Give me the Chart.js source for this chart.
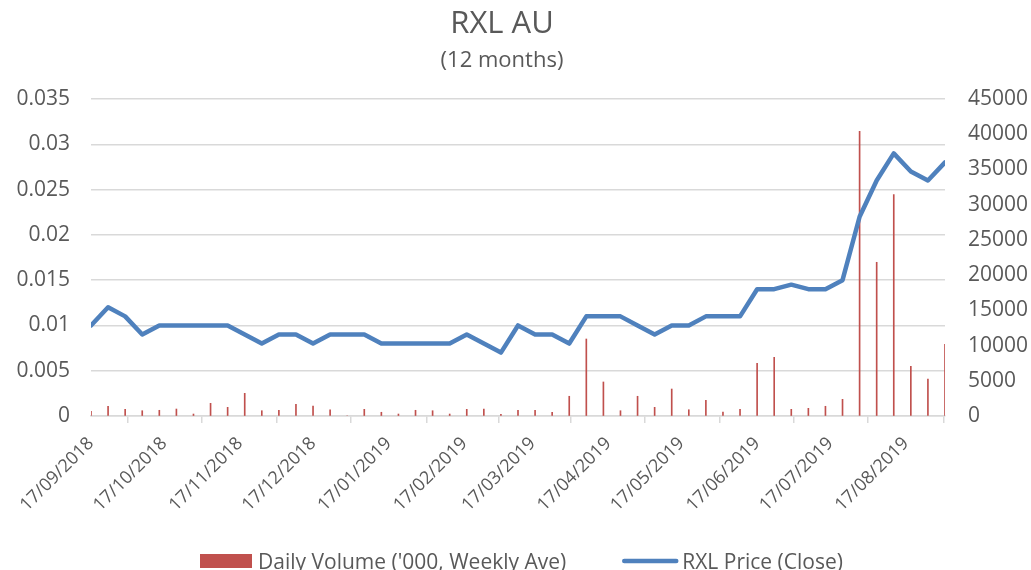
<!DOCTYPE html>
<html><head><meta charset="utf-8">
<script src="https://cdn.jsdelivr.net/npm/chart.js@4.4.1/dist/chart.umd.min.js"></script>
<style>html,body{margin:0;padding:0;background:#fff;}canvas{display:block;}</style>
</head><body>
<canvas id="c" width="1031" height="570"></canvas>
<script>
// Weekly observation dates (categories)
const weekDates = ['17/09/2018','24/09/2018','01/10/2018','08/10/2018','15/10/2018','22/10/2018','29/10/2018',
  '05/11/2018','12/11/2018','19/11/2018','26/11/2018','03/12/2018','10/12/2018','17/12/2018','24/12/2018',
  '31/12/2018','07/01/2019','14/01/2019','21/01/2019','28/01/2019','04/02/2019','11/02/2019','18/02/2019',
  '25/02/2019','04/03/2019','11/03/2019','18/03/2019','25/03/2019','01/04/2019','08/04/2019','15/04/2019',
  '22/04/2019','29/04/2019','06/05/2019','13/05/2019','20/05/2019','27/05/2019','03/06/2019','10/06/2019',
  '17/06/2019','24/06/2019','01/07/2019','08/07/2019','15/07/2019','22/07/2019','29/07/2019','05/08/2019',
  '12/08/2019','19/08/2019','26/08/2019','02/09/2019'];
// RXL Price (Close)
const priceClose = [0.010,0.012,0.011,0.009,0.010,0.010,0.010,0.010,0.010,0.009,0.008,0.009,0.009,0.008,0.009,
  0.009,0.009,0.008,0.008,0.008,0.008,0.008,0.009,0.008,0.007,0.010,0.009,0.009,0.008,0.011,0.011,0.011,0.010,
  0.009,0.010,0.010,0.011,0.011,0.011,0.014,0.014,0.0145,0.014,0.014,0.015,0.022,0.026,0.029,0.027,0.026,0.028];
// Daily Volume ('000, Weekly Ave)
const volumeWeeklyAve = [660,1370,950,750,810,990,280,1800,1230,3220,750,810,1660,1420,890,0,950,530,280,810,
  750,280,950,990,240,810,810,530,2800,10930,4830,750,2800,1230,3830,890,2230,570,950,7480,8330,950,1090,1380,
  2370,40420,21820,31430,7050,5250,10170];
// X axis tick labels and range
const monthTickLabels = ['17/09/2018','17/10/2018','17/11/2018','17/12/2018','17/01/2019','17/02/2019',
  '17/03/2019','17/04/2019','17/05/2019','17/06/2019','17/07/2019','17/08/2019'];
const axisStart = '17/09/2018';
const axisEnd = '02/09/2019';
const priceAxisMax = 0.035, priceAxisStep = 0.005;
const volumeAxisMax = 45000, volumeAxisStep = 5000;
const titleText = 'RXL AU';
const subtitleText = '(12 months)';

function dayOf(s) {
  const p = s.split('/').map(Number);
  const b = axisStart.split('/').map(Number);
  return Math.round((Date.UTC(p[2], p[1]-1, p[0]) - Date.UTC(b[2], b[1]-1, b[0])) / 86400000);
}
const tickDays = monthTickLabels.map(dayOf);
const labelByDay = {};
monthTickLabels.forEach((l, i) => { labelByDay[tickDays[i]] = l; });

const FONT = "'Open Sans', 'DejaVu Sans', sans-serif";
const TXT = '#595959';
const GRID = '#D9D9D9';
const RED = '#C0504D';
const BLUE = '#4F81BD';

const overlay = {
  id: 'overlay',
  afterDraw(chart) {
    const ctx = chart.ctx;
    ctx.save();
    ctx.fillStyle = TXT;
    ctx.textAlign = 'center';
    ctx.textBaseline = 'alphabetic';
    ctx.font = '31px ' + FONT;
    ctx.fillText(titleText, 502, 33);
    ctx.font = '22px ' + FONT;
    ctx.fillText(subtitleText, 502, 67);
    // legend
    const ds = chart.data.datasets;
    ctx.font = '21px ' + FONT;
    ctx.textAlign = 'left';
    let x = 200;
    ctx.fillStyle = RED;
    ctx.fillRect(x, 554, 52, 14);
    x += 58;
    ctx.fillStyle = TXT;
    ctx.fillText(ds[0].label, x, 569);
    x += ctx.measureText(ds[0].label).width + 56;
    ctx.strokeStyle = BLUE;
    ctx.lineWidth = 4.5;
    ctx.lineCap = 'round';
    ctx.beginPath();
    ctx.moveTo(x + 2, 561);
    ctx.lineTo(x + 54, 561);
    ctx.stroke();
    x += 60;
    ctx.fillText(ds[1].label, x, 569);
    ctx.restore();
  }
};

new Chart(document.getElementById('c'), {
  data: {
    datasets: [
      {
        type: 'bar',
        label: "Daily Volume ('000, Weekly Ave)",
        data: weekDates.map((d, i) => ({x: dayOf(d), y: volumeWeeklyAve[i]})),
        backgroundColor: RED,
        borderWidth: 0,
        barThickness: 1,
        yAxisID: 'y1',
        order: 1
      },
      {
        type: 'line',
        label: 'RXL Price (Close)',
        data: weekDates.map((d, i) => ({x: dayOf(d), y: priceClose[i]})),
        borderColor: BLUE,
        backgroundColor: BLUE,
        borderWidth: 4.5,
        pointRadius: 0,
        borderJoinStyle: 'round',
        borderCapStyle: 'round',
        tension: 0,
        yAxisID: 'y',
        order: 0
      }
    ]
  },
  plugins: [overlay],
  options: {
    responsive: false,
    animation: false,
    layout: {padding: {left: 0, right: 0, top: 99, bottom: 0}},
    plugins: {
      tooltip: {enabled: false},
      title: {display: false},
      legend: {display: false}
    },
    scales: {
      x: {
        type: 'linear',
        min: dayOf(axisStart), max: dayOf(axisEnd),
        offset: false,
        afterBuildTicks: (s) => { s.ticks = tickDays.map(v => ({value: v})); },
        afterFit: (s) => { s.height = 154; },
        ticks: {
          autoSkip: false, minRotation: 45, maxRotation: 45,
          color: TXT, font: {family: FONT, size: 18}, padding: 10,
          callback: (v) => labelByDay[v] || ''
        },
        grid: {display: true, drawOnChartArea: false, drawTicks: true, tickLength: 7, color: GRID, lineWidth: 1.5},
        border: {display: true, color: GRID, width: 1.5}
      },
      y: {
        position: 'left',
        min: 0, max: priceAxisMax,
        afterFit: (s) => { s.width = 91; },
        ticks: {
          stepSize: priceAxisStep, color: TXT, font: {family: FONT, size: 21}, padding: 21,
          callback: (v) => String(+v.toFixed(3))
        },
        grid: {color: GRID, lineWidth: 1.5, drawTicks: false},
        border: {display: false}
      },
      y1: {
        position: 'right',
        min: 0, max: volumeAxisMax,
        afterFit: (s) => { s.width = 86; },
        ticks: {
          stepSize: volumeAxisStep, color: TXT, font: {family: FONT, size: 21}, padding: 23,
          callback: (v) => String(v)
        },
        grid: {drawOnChartArea: false, drawTicks: false},
        border: {display: false}
      }
    }
  }
});
</script>
</body></html>
